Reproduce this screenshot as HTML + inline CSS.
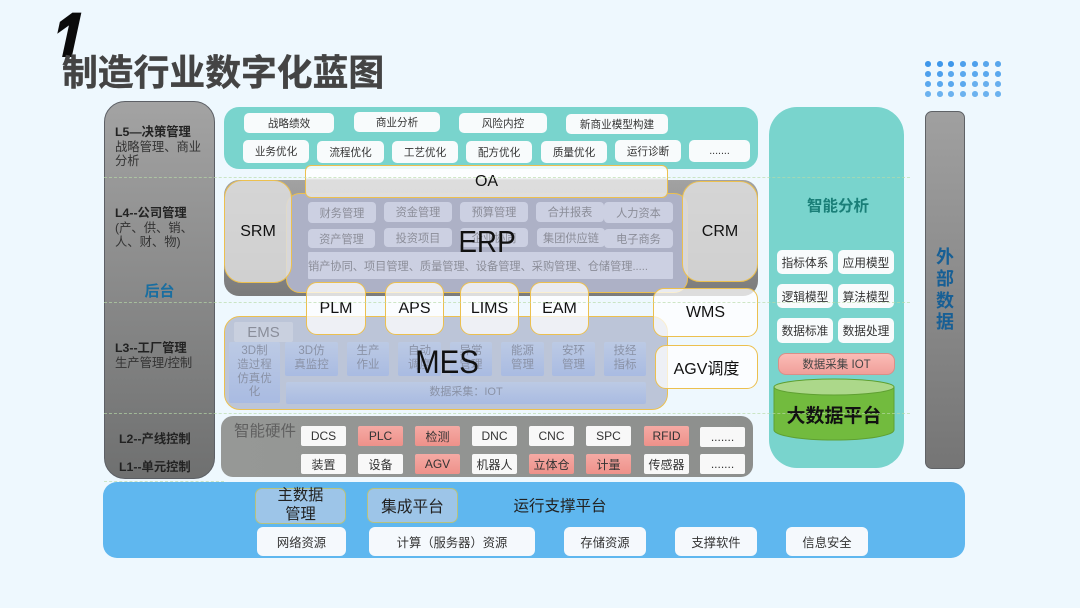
<!DOCTYPE html>
<html lang="zh"><head><meta charset="utf-8"><title>制造行业数字化蓝图</title>
<style>
html,body{margin:0;padding:0}
body{width:1080px;height:608px;overflow:hidden;position:relative;background:#eef8fe;font-family:"Liberation Sans","Noto Sans CJK SC",sans-serif;color:#333}
div{position:absolute;box-sizing:border-box}
.c{display:flex;align-items:center;justify-content:center;text-align:center;white-space:nowrap}
.w{background:#f8fbfc;border-radius:5px;font-size:10.6px;color:#333}
.e{background:#ccd0e2;border-radius:4px;font-size:11.2px;color:#8b8d98}
.y{background:rgba(255,255,255,.74);border:1.5px solid #ecc04f;border-radius:11px;font-size:16px;color:#111}
.m{background:linear-gradient(#bccae4,#a9bbe2);border-radius:2px;font-size:11.5px;line-height:13.6px;color:#8a92a6;white-space:nowrap}
.h{background:#f8f8f8;border-radius:2px;font-size:12px;color:#333;height:20px;width:45px}
.p{background:linear-gradient(#f5aaa4,#ee918a);border-radius:2px;font-size:12px;color:#333;height:20px;width:45px}
.t{background:#f8fbfc;border-radius:5px;font-size:11.7px;color:#333;height:24px;width:56px}
.b{background:#f5f9fd;border-radius:6px;font-size:12.3px;color:#333;top:527px;height:29px}
.l{left:115px;width:96px;font-size:12.3px;line-height:14.5px;color:#333;white-space:nowrap}
.l b{color:#222}
.d{height:0;border-top:1px dashed #b8dba8;left:104px;width:806px;opacity:.65}
.o{width:5.6px;height:5.6px;border-radius:50%;background:#5aa8ee}
</style></head><body>

<div style="left:49px;top:6px;width:50px;height:70px;font:italic bold 79px/70px 'Liberation Sans',sans-serif;color:#0b0b0b;-webkit-text-stroke:2px #0b0b0b;clip-path:inset(-10px -10px 19px -10px);transform:skewX(-4deg) scaleX(.75);transform-origin:left bottom">1</div>
<div style="left:62px;top:48px;font-size:35.8px;line-height:50px;font-weight:700;color:#444;white-space:nowrap;-webkit-text-stroke:.4px #444">制造行业数字化蓝图</div>

<!-- dots -->
<div class="o" style="left:925px;top:61px;background:#3e97ea"></div><div class="o" style="left:937px;top:61px;background:#3e97ea"></div><div class="o" style="left:948px;top:61px;background:#3e97ea"></div><div class="o" style="left:960px;top:61px;background:#4ea0ec"></div><div class="o" style="left:972px;top:61px;background:#4ea0ec"></div><div class="o" style="left:983px;top:61px;background:#58a6ec"></div><div class="o" style="left:995px;top:61px;background:#58a6ec"></div>
<div class="o" style="left:925px;top:71px;background:#4ea0ec"></div><div class="o" style="left:937px;top:71px;background:#4ea0ec"></div><div class="o" style="left:948px;top:71px"></div><div class="o" style="left:960px;top:71px"></div><div class="o" style="left:972px;top:71px"></div><div class="o" style="left:983px;top:71px"></div><div class="o" style="left:995px;top:71px"></div>
<div class="o" style="left:925px;top:81px"></div><div class="o" style="left:937px;top:81px"></div><div class="o" style="left:948px;top:81px"></div><div class="o" style="left:960px;top:81px"></div><div class="o" style="left:972px;top:81px;background:#68afee"></div><div class="o" style="left:983px;top:81px;background:#68afee"></div><div class="o" style="left:995px;top:81px;background:#68afee"></div>
<div class="o" style="left:925px;top:91px;background:#6cb2ef"></div><div class="o" style="left:937px;top:91px;background:#6cb2ef"></div><div class="o" style="left:948px;top:91px;background:#6cb2ef"></div><div class="o" style="left:960px;top:91px;background:#6cb2ef"></div><div class="o" style="left:972px;top:91px;background:#6cb2ef"></div><div class="o" style="left:983px;top:91px;background:#6cb2ef"></div><div class="o" style="left:995px;top:91px;background:#6cb2ef"></div>

<!-- left column -->
<div style="left:104px;top:101px;width:111px;height:378px;border-radius:21px;background:linear-gradient(#a3a3a3,#6f7070);border:1px solid #5d6066"></div>
<div class="l" style="top:125px"><b>L5—决策管理</b><br>战略管理、商业<br>分析</div>
<div class="l" style="top:206px"><b>L4--公司管理</b><br>(产、供、销、<br>人、财、物)</div>
<div class="c" style="left:104px;top:280px;width:111px;height:20px;font-size:15px;font-weight:700;color:#1a6ea0">后台</div>
<div class="l" style="top:341px"><b>L3--工厂管理</b><br>生产管理/控制</div>
<div class="l" style="top:432px;left:119px"><b>L2--产线控制</b></div>
<div class="l" style="top:460px;left:119px"><b>L1--单元控制</b></div>

<!-- L5 -->
<div style="left:224px;top:107px;width:534px;height:62px;border-radius:15px;background:#79d4cd"></div>
<div class="c w" style="left:244px;top:113px;width:90px;height:20px">战略绩效</div>
<div class="c w" style="left:354px;top:112px;width:86px;height:20px">商业分析</div>
<div class="c w" style="left:459px;top:113px;width:88px;height:20px">风险内控</div>
<div class="c w" style="left:566px;top:114px;width:102px;height:20px">新商业模型构建</div>
<div class="c w" style="left:243px;top:140px;width:66px;height:23px">业务优化</div>
<div class="c w" style="left:317px;top:141px;width:67px;height:22px">流程优化</div>
<div class="c w" style="left:392px;top:141px;width:66px;height:22px">工艺优化</div>
<div class="c w" style="left:466px;top:141px;width:66px;height:22px">配方优化</div>
<div class="c w" style="left:541px;top:141px;width:66px;height:22px">质量优化</div>
<div class="c w" style="left:615px;top:140px;width:66px;height:22px">运行诊断</div>
<div class="c w" style="left:689px;top:140px;width:61px;height:22px">.......</div>

<!-- L4 -->
<div style="left:224px;top:180px;width:534px;height:116px;border-radius:15px;background:linear-gradient(#a2a2a2,#7b7b7b)"></div>
<div style="left:286px;top:193px;width:402px;height:100px;border-radius:14px;background:#adb1c6;border:1.5px solid #ecc04f"></div>
<div class="c e" style="left:308px;top:202px;width:68px;height:21px">财务管理</div>
<div class="c e" style="left:384px;top:202px;width:68px;height:20px">资金管理</div>
<div class="c e" style="left:460px;top:202px;width:68px;height:20px">预算管理</div>
<div class="c e" style="left:536px;top:202px;width:68px;height:20px">合并报表</div>
<div class="c e" style="left:604px;top:202px;width:69px;height:21px">人力资本</div>
<div class="c e" style="left:308px;top:229px;width:67px;height:19px">资产管理</div>
<div class="c e" style="left:384px;top:228px;width:68px;height:19px">投资项目</div>
<div class="c e" style="left:460px;top:228px;width:68px;height:19px">企业协同</div>
<div class="c e" style="left:537px;top:228px;width:68px;height:19px">集团供应链</div>
<div class="c e" style="left:604px;top:229px;width:69px;height:19px">电子商务</div>
<div class="c e" style="left:308px;top:252px;width:365px;height:27px;justify-content:flex-start;border-radius:1px">销产协同、项目管理、质量管理、设备管理、采购管理、仓储管理.....</div>
<div class="c" style="left:447px;top:220px;width:80px;height:44px;font-size:31px;color:#111;transform:scaleX(.9)">ERP</div>
<div class="c y" style="left:224px;top:180px;width:68px;height:103px;border-radius:18px;background:rgba(222,222,222,.85)">SRM</div>
<div class="c y" style="left:682px;top:181px;width:76px;height:101px;border-radius:18px;background:rgba(222,222,222,.85)">CRM</div>
<div class="c y" style="left:305px;top:165px;width:363px;height:33px;border-radius:6px;background:linear-gradient(rgba(255,255,255,.86) 40%,rgba(226,226,226,.92) 40%)">OA</div>

<!-- MES -->
<div style="left:224px;top:316px;width:444px;height:94px;border-radius:16px;background:#bcc5d8;border:1.5px solid #ecc04f"></div>
<div class="c" style="left:234px;top:322px;width:59px;height:20px;background:#c9d0df;border-radius:2px;font-size:15px;color:#8a8e9a">EMS</div>
<div class="c m" style="left:229px;top:342px;width:51px;height:61px">3D制<br>造过程<br>仿真优<br>化</div>
<div class="c m" style="left:285px;top:342px;width:53px;height:34px">3D仿<br>真监控</div>
<div class="c m" style="left:347px;top:342px;width:42px;height:34px">生产<br>作业</div>
<div class="c m" style="left:398px;top:342px;width:43px;height:34px">自动<br>调度</div>
<div class="c m" style="left:450px;top:342px;width:42px;height:34px">异常<br>管理</div>
<div class="c m" style="left:501px;top:342px;width:43px;height:34px">能源<br>管理</div>
<div class="c m" style="left:552px;top:342px;width:43px;height:34px">安环<br>管理</div>
<div class="c m" style="left:604px;top:342px;width:42px;height:34px">技经<br>指标</div>
<div class="c m" style="left:286px;top:382px;width:360px;height:22px;font-size:11px">数据采集：IOT</div>
<div class="c" style="left:397px;top:340px;width:100px;height:44px;font-size:32px;color:#111;transform:scaleX(.92)">MES</div>

<div class="c y" style="left:306px;top:282px;width:60px;height:53px">PLM</div>
<div class="c y" style="left:385px;top:282px;width:59px;height:53px">APS</div>
<div class="c y" style="left:460px;top:282px;width:59px;height:53px">LIMS</div>
<div class="c y" style="left:530px;top:282px;width:59px;height:53px">EAM</div>
<div class="c y" style="left:653px;top:288px;width:105px;height:49px">WMS</div>
<div class="c y" style="left:655px;top:345px;width:103px;height:44px">AGV调度</div>

<!-- hardware -->
<div style="left:221px;top:416px;width:532px;height:61px;border-radius:12px;background:linear-gradient(90deg,#969896,#8d8f8d)"></div>
<div style="left:234px;top:422px;font-size:15.5px;line-height:20px;color:#606060;white-space:nowrap">智能硬件</div>
<div class="c h" style="left:301px;top:426px">DCS</div>
<div class="c p" style="left:358px;top:426px">PLC</div>
<div class="c p" style="left:415px;top:426px">检测</div>
<div class="c h" style="left:472px;top:426px">DNC</div>
<div class="c h" style="left:529px;top:426px">CNC</div>
<div class="c h" style="left:586px;top:426px">SPC</div>
<div class="c p" style="left:644px;top:426px">RFID</div>
<div class="c h" style="left:700px;top:427px">.......</div>
<div class="c h" style="left:301px;top:454px">装置</div>
<div class="c h" style="left:358px;top:454px">设备</div>
<div class="c p" style="left:415px;top:454px">AGV</div>
<div class="c h" style="left:472px;top:454px">机器人</div>
<div class="c p" style="left:529px;top:454px">立体仓</div>
<div class="c p" style="left:586px;top:454px">计量</div>
<div class="c h" style="left:644px;top:454px">传感器</div>
<div class="c h" style="left:700px;top:454px">.......</div>

<!-- right teal -->
<div style="left:769px;top:107px;width:135px;height:361px;border-radius:28px;background:#79d4cd"></div>
<div class="c" style="left:769px;top:194px;width:138px;height:22px;font-size:15.5px;font-weight:700;color:#1a7f78">智能分析</div>
<div class="c t" style="left:777px;top:250px">指标体系</div>
<div class="c t" style="left:838px;top:250px">应用模型</div>
<div class="c t" style="left:777px;top:284px">逻辑模型</div>
<div class="c t" style="left:838px;top:284px">算法模型</div>
<div class="c t" style="left:777px;top:318px;height:25px">数据标准</div>
<div class="c t" style="left:838px;top:318px;height:25px">数据处理</div>
<div class="c" style="left:778px;top:353px;width:117px;height:22px;border-radius:8px;background:linear-gradient(#fbbcb6,#f09f9a);border:1px solid #d88f88;font-size:11.5px;color:#444">数据采集 IOT</div>
<svg style="position:absolute;left:772px;top:376px" width="124" height="68" viewBox="0 0 124 68">
<path d="M2 11 V54 A60 10 0 0 0 122 54 V11 Z" fill="#72bb3e" stroke="#5fa032"/>
<ellipse cx="62" cy="11" rx="60" ry="8" fill="#acd88a" stroke="#5fa032"/>
</svg>
<div class="c" style="left:774px;top:399px;width:120px;height:30px;font-size:19px;font-weight:700;color:#111">大数据平台</div>

<!-- external -->
<div style="left:925px;top:111px;width:40px;height:358px;border-radius:7px;background:linear-gradient(#a0a0a0,#757575);border:1px solid #5f6266"></div>
<div class="c" style="left:925px;top:247px;width:40px;height:87px;font-size:18px;line-height:21.6px;font-weight:700;color:#175f95">外<br>部<br>数<br>据</div>

<!-- bottom -->
<div style="left:103px;top:482px;width:862px;height:76px;border-radius:14px;background:#5fb7ef"></div>
<div class="c" style="left:255px;top:488px;width:91px;height:36px;border-radius:7px;background:#9dc5e8;border:1.5px solid #b7c27e;font-size:15.3px;line-height:18.6px;color:#222">主数据<br>管理</div>
<div class="c" style="left:367px;top:488px;width:91px;height:35px;border-radius:7px;background:#9dc5e8;border:1.5px solid #b7c27e;font-size:15.7px;color:#222">集成平台</div>
<div class="c" style="left:500px;top:495px;width:120px;height:20px;font-size:15.5px;color:#222">运行支撑平台</div>
<div class="c b" style="left:257px;width:89px">网络资源</div>
<div class="c b" style="left:369px;width:166px">计算（服务器）资源</div>
<div class="c b" style="left:564px;width:82px">存储资源</div>
<div class="c b" style="left:675px;width:82px">支撑软件</div>
<div class="c b" style="left:786px;width:82px">信息安全</div>

<!-- dashed guides -->
<div class="d" style="top:177px"></div>
<div class="d" style="top:302px"></div>
<div class="d" style="top:413px"></div>
<div class="d" style="top:481px;width:120px"></div>
</body></html>
